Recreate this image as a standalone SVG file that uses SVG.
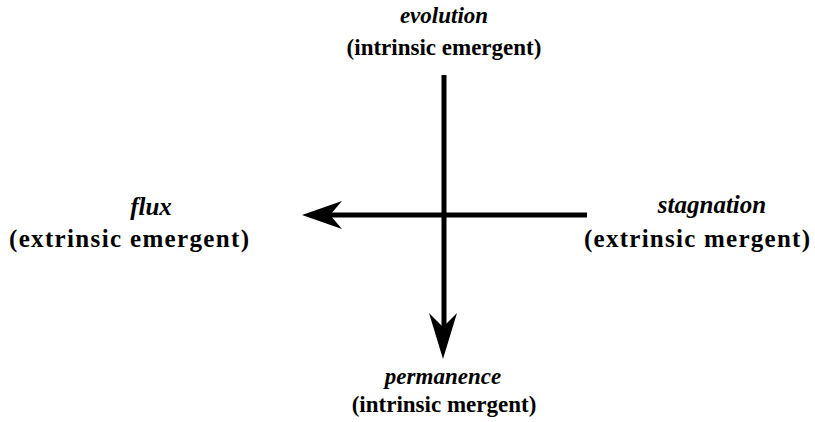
<svg xmlns="http://www.w3.org/2000/svg" width="815" height="422" viewBox="0 0 815 422">
<style>
text{font-family:"Liberation Serif","Times New Roman","DejaVu Serif",serif;font-weight:bold;font-size:23px;fill:#000;text-anchor:middle}
.t{font-style:italic}
.s{font-size:25px}
.ln{stroke:#000;stroke-width:5;fill:none}
.ah{fill:#000;stroke:none}
</style>
<rect width="815" height="422" fill="#fff"/>
<g id="connectors">
<line class="ln" x1="444" y1="75" x2="444" y2="330"/>
<polygon class="ah" points="443,359 429,313 443,327 457,313"/>
<line class="ln" x1="587" y1="215" x2="328" y2="215"/>
<polygon class="ah" points="302,215 342,201 330,215 342,229"/>
</g>
<g id="evolution">
<text class="t" x="444" y="23">evolution</text>
<text x="444" y="55">(intrinsic emergent)</text>
</g>
<g id="flux">
<text class="t s" x="151" y="215">flux</text>
<text class="s" x="129" y="247" textLength="240" lengthAdjust="spacing">(extrinsic emergent)</text>
</g>
<g id="stagnation">
<text class="t s" x="712" y="213">stagnation</text>
<text class="s" x="697" y="247" textLength="226" lengthAdjust="spacing">(extrinsic mergent)</text>
</g>
<g id="permanence">
<text class="t" x="443" y="384">permanence</text>
<text x="444" y="412">(intrinsic mergent)</text>
</g>
</svg>
